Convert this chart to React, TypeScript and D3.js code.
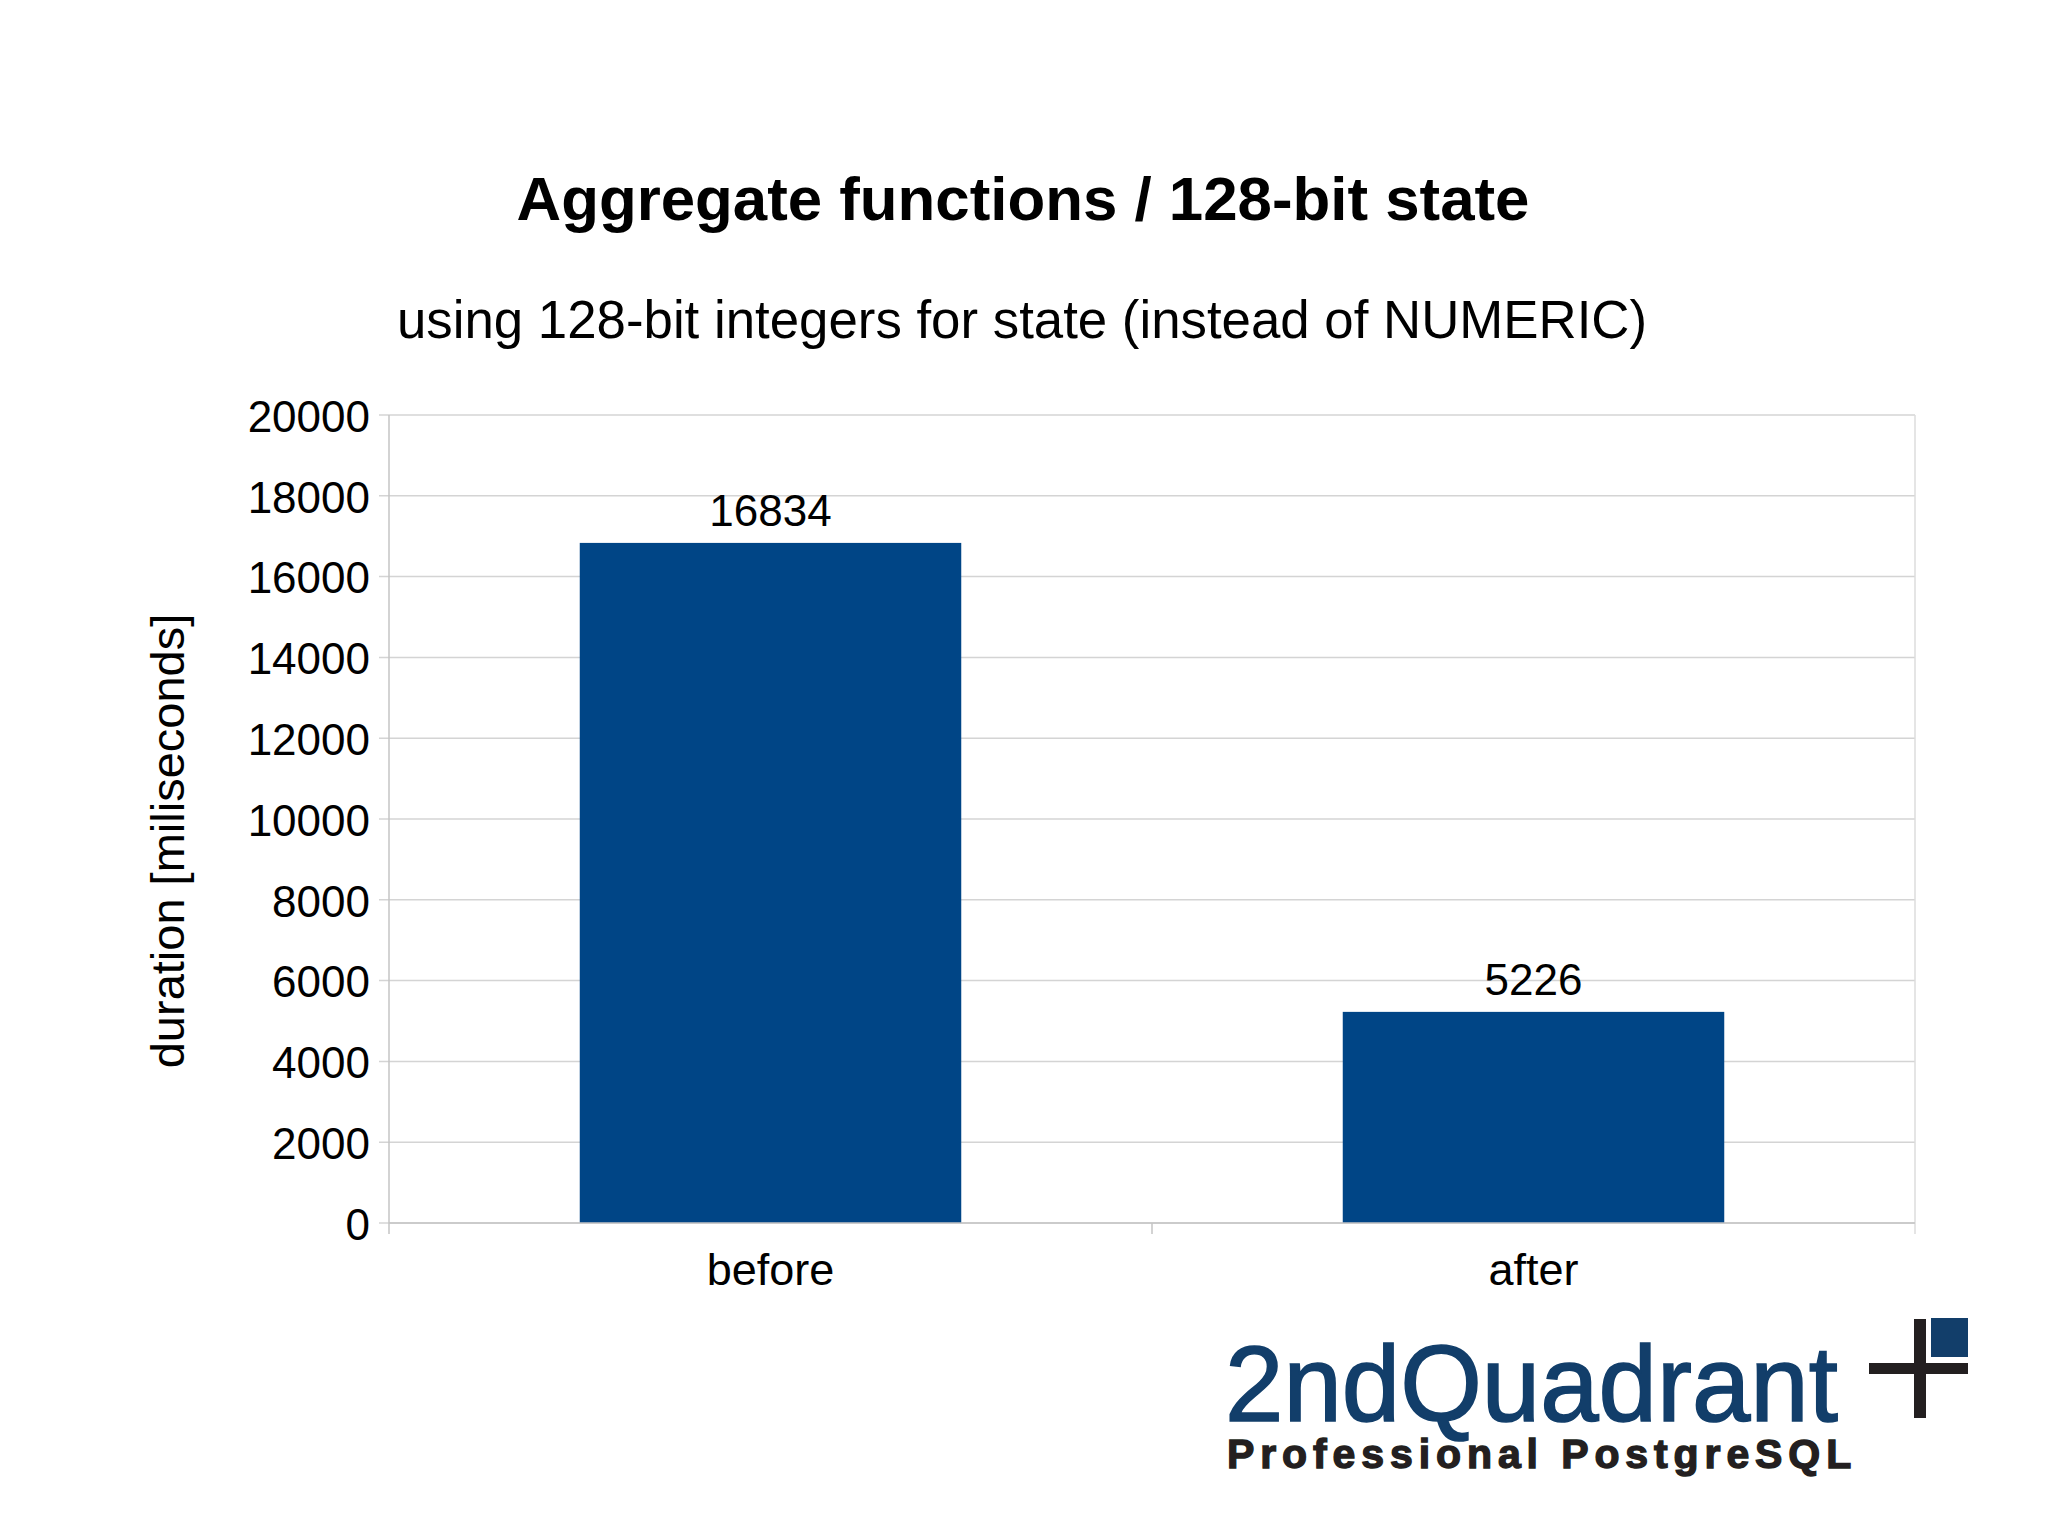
import { useEffect, useRef } from 'react';
import * as d3 from 'd3';

const categories = ['before', 'after'];
const durations = [16834, 5226];
const yTicks = [0, 2000, 4000, 6000, 8000, 10000, 12000, 14000, 16000, 18000, 20000];

const W = 2048;
const H = 1535;
const FONT = '"Liberation Sans", Arial, sans-serif';

export default function App() {
  const svgRef = useRef<SVGSVGElement>(null);

  useEffect(() => {
    document.body.style.margin = '0';
    if (!svgRef.current) return;
    const svg = d3.select(svgRef.current);
    svg.selectAll('*').remove();

    const left = 389;
    const right = 1915;
    const top = 415;
    const bottom = 1223;

    const x = d3.scaleBand<string>().domain(categories).range([left, right]).paddingInner(0.5).paddingOuter(0.25);
    const y = d3.scaleLinear().domain([0, 20000]).range([bottom, top]);

    svg.append('rect').attr('width', W).attr('height', H).attr('fill', '#ffffff');

    // titles
    svg
      .append('text')
      .attr('x', 1023)
      .attr('y', 220)
      .attr('text-anchor', 'middle')
      .attr('font-family', FONT)
      .attr('font-weight', 700)
      .attr('font-size', 61.8)
      .attr('fill', '#000')
      .text('Aggregate functions / 128-bit state');

    svg
      .append('text')
      .attr('x', 1022)
      .attr('y', 338)
      .attr('text-anchor', 'middle')
      .attr('font-family', FONT)
      .attr('font-size', 52.8)
      .attr('fill', '#000')
      .text('using 128-bit integers for state (instead of NUMERIC)');

    // grid + y ticks
    svg
      .append('g')
      .selectAll('line')
      .data(yTicks)
      .join('line')
      .attr('x1', left - 10)
      .attr('x2', right)
      .attr('y1', (d) => y(d))
      .attr('y2', (d) => y(d))
      .attr('stroke', '#d4d4d4')
      .attr('stroke-width', 1.5);

    svg
      .append('g')
      .selectAll('text')
      .data(yTicks)
      .join('text')
      .attr('x', 370)
      .attr('y', (d) => y(d))
      .attr('dy', '0.38em')
      .attr('text-anchor', 'end')
      .attr('font-family', FONT)
      .attr('font-size', 44)
      .attr('fill', '#000')
      .text((d) => String(d));

    // axis lines
    const axisColor = '#c4c4c4';
    svg.append('line').attr('x1', left).attr('x2', left).attr('y1', top).attr('y2', bottom + 11).attr('stroke', axisColor).attr('stroke-width', 1.5);
    svg.append('line').attr('x1', right).attr('x2', right).attr('y1', top).attr('y2', bottom + 11).attr('stroke', '#dcdcdc').attr('stroke-width', 1.5);
    svg
      .append('line')
      .attr('x1', (left + right) / 2)
      .attr('x2', (left + right) / 2)
      .attr('y1', bottom)
      .attr('y2', bottom + 11)
      .attr('stroke', axisColor)
      .attr('stroke-width', 1.5);

    // bars
    svg
      .append('g')
      .selectAll('rect')
      .data(durations)
      .join('rect')
      .attr('x', (_, i) => x(categories[i]) as number)
      .attr('width', x.bandwidth())
      .attr('y', (d) => y(d))
      .attr('height', (d) => bottom - y(d))
      .attr('fill', '#004586');

    svg
      .append('line')
      .attr('x1', left)
      .attr('x2', right)
      .attr('y1', bottom)
      .attr('y2', bottom)
      .attr('stroke', axisColor)
      .attr('stroke-width', 1.5);

    // value labels
    svg
      .append('g')
      .selectAll('text')
      .data(durations)
      .join('text')
      .attr('x', (_, i) => (x(categories[i]) as number) + x.bandwidth() / 2)
      .attr('y', (d) => y(d) - 16.5)
      .attr('text-anchor', 'middle')
      .attr('font-family', FONT)
      .attr('font-size', 44)
      .attr('fill', '#000')
      .text((d) => String(d));

    // category labels
    svg
      .append('g')
      .selectAll('text')
      .data(categories)
      .join('text')
      .attr('x', (d) => (x(d) as number) + x.bandwidth() / 2)
      .attr('y', 1285)
      .attr('text-anchor', 'middle')
      .attr('font-family', FONT)
      .attr('font-size', 45)
      .attr('fill', '#000')
      .text((d) => d);

    // y axis title
    svg
      .append('text')
      .attr('transform', 'translate(184,841) rotate(-90)')
      .attr('text-anchor', 'middle')
      .attr('font-family', FONT)
      .attr('font-size', 47)
      .attr('fill', '#000')
      .text('duration [miliseconds]');

    // logo
    const logo = svg.append('g');
    logo
      .append('text')
      .attr('transform', 'translate(1225,1421) scale(1,1.02)')
      .attr('font-family', FONT)
      .attr('font-size', 105)
      .attr('fill', '#123e6a')
      .attr('stroke', '#123e6a')
      .attr('stroke-width', 1.6)
      .text('2ndQuadrant');
    logo
      .append('text')
      .attr('x', 1227)
      .attr('y', 1468)
      .attr('font-family', FONT)
      .attr('font-weight', 700)
      .attr('font-size', 41)
      .attr('letter-spacing', 5.9)
      .attr('fill', '#231f20')
      .attr('stroke', '#231f20')
      .attr('stroke-width', 1.4)
      .text('Professional PostgreSQL');
    logo.append('rect').attr('x', 1914).attr('y', 1319).attr('width', 12).attr('height', 99).attr('fill', '#231f20');
    logo.append('rect').attr('x', 1869).attr('y', 1363).attr('width', 99).attr('height', 11).attr('fill', '#231f20');
    logo.append('rect').attr('x', 1931).attr('y', 1318).attr('width', 37).attr('height', 39).attr('fill', '#123e6a');
  }, []);

  return <svg ref={svgRef} width={W} height={H} style={{ display: 'block' }} />;
}
